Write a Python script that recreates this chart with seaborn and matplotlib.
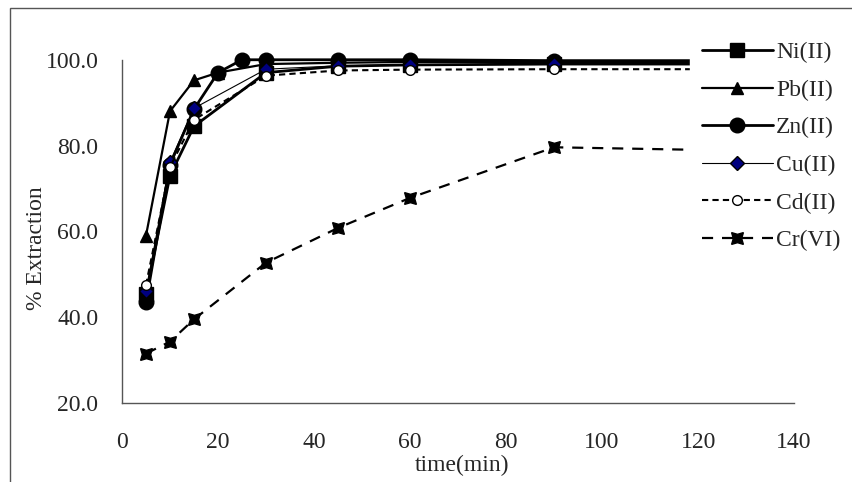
import pandas as pd
import seaborn as sns
import matplotlib.pyplot as plt
from matplotlib.patches import Rectangle

# extraction data
ni_t = [5, 10, 15, 30, 45, 60, 90, 120]
ni_y = [45.5, 73.0, 84.5, 97.0, 98.5, 98.8, 99.0, 99.0]
pb_t = [5, 10, 15, 20, 30, 45, 60, 90, 120]
pb_y = [59.0, 88.0, 95.2, 97.0, 99.0, 99.3, 99.5, 99.5, 99.5]
zn_t = [5, 10, 15, 20, 25, 30, 45, 60, 90, 120]
zn_y = [43.5, 75.5, 88.5, 97.0, 100.0, 100.0, 100.0, 100.0, 99.8, 99.8]
cu_t = [5, 10, 15, 30, 45, 60, 90, 120]
cu_y = [46.0, 76.2, 88.7, 97.8, 98.6, 98.8, 99.0, 99.0]
cd_t = [5, 10, 15, 30, 45, 60, 90, 120]
cd_y = [47.5, 75.0, 86.0, 96.3, 97.5, 97.7, 97.8, 97.8]
cr_t = [5, 10, 15, 30, 45, 60, 90, 120]
cr_y = [31.5, 34.3, 39.5, 52.7, 60.8, 67.8, 79.6, 79.0]

labels = ['Ni(II)', 'Pb(II)', 'Zn(II)', 'Cu(II)', 'Cd(II)', 'Cr(VI)']
times = [ni_t, pb_t, zn_t, cu_t, cd_t, cr_t]
values = [ni_y, pb_y, zn_y, cu_y, cd_y, cr_y]

rows = []
for lab, ts, ys in zip(labels, times, values):
    for t, y in zip(ts, ys):
        rows.append({'metal': lab, 'time': t, 'ext': y})
df = pd.DataFrame(rows)

styles = {
    'Ni(II)': dict(marker='s', markersize=10, lw=2.0, ls='-', mfc='black', mec='black'),
    'Pb(II)': dict(marker='^', markersize=8, lw=1.6, ls='-', mfc='black', mec='black'),
    'Zn(II)': dict(marker='o', markersize=10.5, lw=2.0, ls='-', mfc='black', mec='black'),
    'Cu(II)': dict(marker='D', markersize=7.5, lw=0.8, ls='-', mfc='#000080', mec='black'),
    'Cd(II)': dict(marker='o', markersize=7, lw=1.5, ls=(0, (3, 2)), mfc='white', mec='black'),
    'Cr(VI)': dict(marker=(4, 1, 45), markersize=12, lw=1.6, ls=(0, (5, 4)), mfc='black', mec='black'),
}

sns.set_style('white')
plt.rcParams['font.family'] = ['Liberation Serif', 'DejaVu Serif']

fig = plt.figure(figsize=(8.53, 4.82), dpi=100)
ax = fig.add_axes([0.143, 0.164, 0.788, 0.712])

for lab in labels:
    st = styles[lab]
    sns.lineplot(data=df[df['metal'] == lab], x='time', y='ext', ax=ax, color='black',
                 marker=st['marker'], markersize=st['markersize'], linewidth=st['lw'],
                 linestyle=st['ls'], markerfacecolor=st['mfc'], markeredgecolor=st['mec'],
                 markeredgewidth=1.0, label=lab, estimator=None, sort=False, clip_on=False)

ax.set_xlim(0, 140)
ax.set_ylim(20, 100)
ax.set_xticks(range(0, 141, 20))
ax.set_yticks(range(20, 101, 20))
ax.set_yticklabels([f'{v:.1f}' for v in range(20, 101, 20)])
ax.tick_params(axis='both', labelsize=17, direction='out', length=5, width=1, color='#444444')
ax.tick_params(axis='x', pad=16)
ax.tick_params(axis='y', pad=12)
ax.spines['top'].set_visible(False)
ax.spines['right'].set_visible(False)
for s in ['left', 'bottom']:
    ax.spines[s].set_color('#555555')
    ax.spines[s].set_linewidth(1.0)

ax.set_xlabel('time(min)', fontsize=17)
ax.set_ylabel('% Extraction', fontsize=17)
ax.xaxis.set_label_coords(0.506, -0.152)
ax.yaxis.set_label_coords(-0.112, 0.452)

# legend box sits over the right end of the curves (hides the 120 min points)
leg = ax.legend(loc='upper left', bbox_to_anchor=(690 / 853, 1 - 30 / 482),
                bbox_transform=fig.transFigure, frameon=True, fontsize=17,
                handlelength=3.0, labelspacing=0.68, handletextpad=0.15,
                borderaxespad=0, borderpad=0.5)
leg.get_frame().set_edgecolor('white')
leg.get_frame().set_facecolor('white')
leg.get_frame().set_alpha(1)
leg.set_zorder(10)

# outer chart border (cropped on right/bottom)
fig.patches.append(Rectangle((10 / 853, -0.1), 1.2, 1.1 - 8 / 482, transform=fig.transFigure,
                             fill=False, edgecolor='#555555', lw=1.0))

fig.savefig('out.png', dpi=100)
